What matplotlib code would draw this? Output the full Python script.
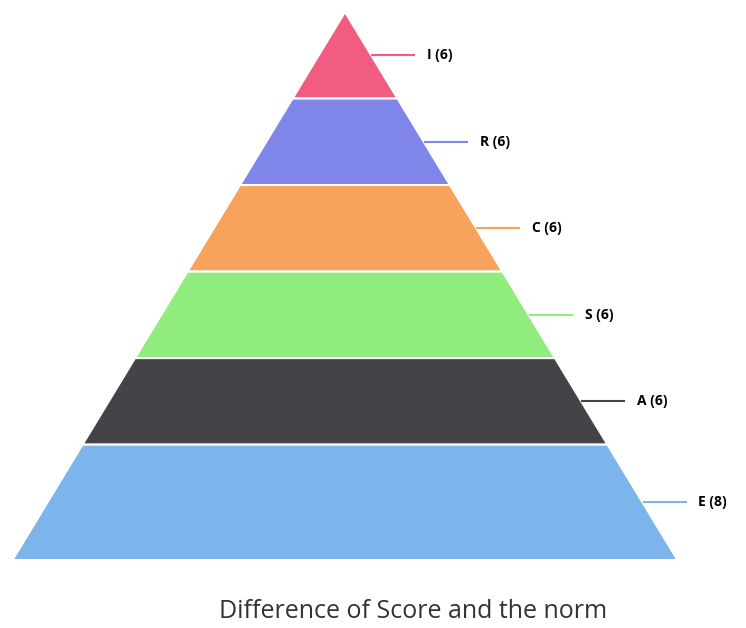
import numpy as np
import matplotlib.pyplot as plt
from matplotlib.patches import Polygon

# data, top of pyramid first
labels = ['I', 'R', 'C', 'S', 'A', 'E']
values = [6, 6, 6, 6, 6, 8]
colors = ['#f15c80', '#8085e9', '#f7a35c', '#90ed7d', '#434348', '#7cb5ec']
title = 'Difference of Score and the norm'

W, H = 746, 628
fig = plt.figure(figsize=(W / 100, H / 100), dpi=100)
ax = fig.add_axes([0, 0, 1, 1])
ax.set_xlim(0, W)
ax.set_ylim(H, 0)
ax.axis('off')

# pyramid frame (pixels)
apex_x, top, bottom = 345, 12, 560
half_base = 332.5

def half_width(y):
    return half_base * (y - top) / (bottom - top)

total = sum(values)
cum = np.concatenate([[0], np.cumsum(values)])
ys = top + cum / total * (bottom - top)

for i, (lab, v, c) in enumerate(zip(labels, values, colors)):
    y0, y1 = ys[i], ys[i + 1]
    w0, w1 = half_width(y0), half_width(y1)
    pts = [(apex_x - w0, y0), (apex_x + w0, y0), (apex_x + w1, y1), (apex_x - w1, y1)]
    ax.add_patch(Polygon(pts, closed=True, facecolor=c, edgecolor='white', lw=1.5))

    # connector + label
    ym = (y0 + y1) / 2
    xe = apex_x + half_width(ym)
    ax.plot([xe, xe + 44], [ym, ym], color=c, lw=1.5, solid_capstyle='butt')
    ax.text(xe + 56, ym, f'{lab} ({v})', fontsize=10, fontweight='bold',
            color='#000000', va='center', ha='left', family='Open Sans')

ax.text(413, 611, title, fontsize=18, color='#333333', ha='center', va='center',
        family='Open Sans')

fig.savefig('out.png', dpi=100)
